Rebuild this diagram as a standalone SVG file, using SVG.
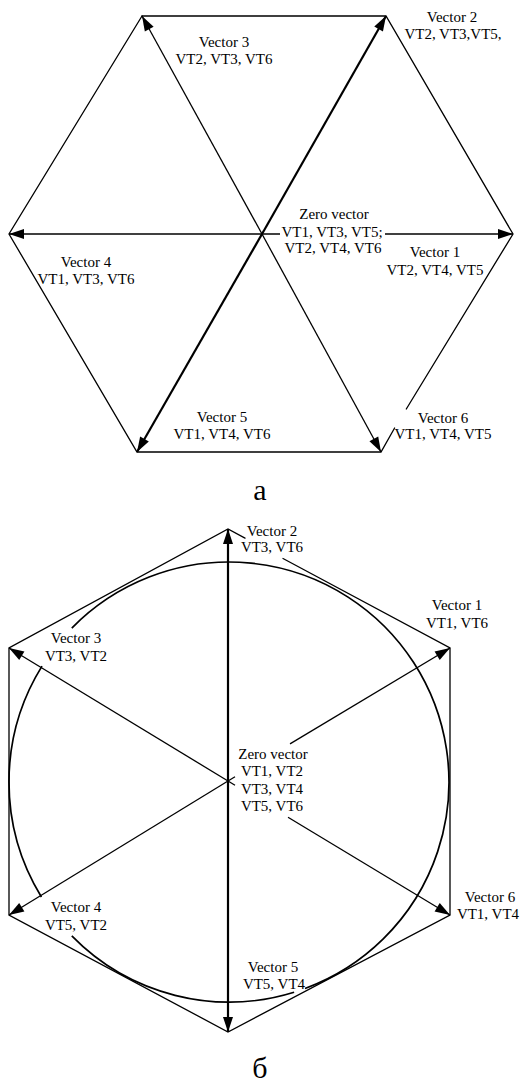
<svg xmlns="http://www.w3.org/2000/svg" width="524" height="1084" viewBox="0 0 524 1084">
<style>
.e{fill:none;stroke:#000;stroke-width:1.3;stroke-linecap:round;stroke-linejoin:miter}
.v{fill:none;stroke:#000;stroke-width:1.3;marker-end:url(#ah)}
.vt{fill:none;stroke:#000;stroke-width:2.2;marker-end:url(#ah)}
.s{fill:none;stroke:#000;stroke-width:1.3}
.c{fill:none;stroke:#000;stroke-width:1.7}
text{font-family:"Liberation Serif","Times New Roman",serif;font-size:15px;fill:#000;text-anchor:middle}
.big{font-size:30px}
</style>
<defs>
<marker id="ah" markerUnits="userSpaceOnUse" markerWidth="20" markerHeight="14" viewBox="-16 -7 18 14" refX="0" refY="0" orient="auto">
<path d="M0,0 L-15,-5 L-15,5 Z" fill="#000"/>
</marker>
</defs>

<!-- Diagram a -->
<g id="hex-a">
<path class="e" d="M142,16 L386,16 L513,234 L406.3,409"/>
<path class="e" d="M394.6,428 L381,452 L137,452 L9,234 L142,16"/>
</g>
<g id="connectors-a">
<line class="v" x1="262" y1="234" x2="142" y2="16"/>
<line class="v" x1="262" y1="234" x2="381" y2="452"/>
<line class="vt" x1="262" y1="234" x2="386" y2="16"/>
<line class="vt" x1="262" y1="234" x2="137" y2="452"/>
<line class="v" x1="280" y1="234" x2="9" y2="234"/>
<line class="v" x1="385" y1="234" x2="513" y2="234"/>
</g>
<g id="a-v3"><text x="224" y="47">Vector 3</text><text x="224" y="64">VT2, VT3, VT6</text></g>
<g id="a-v2"><text x="452" y="22">Vector 2</text><text x="453" y="39">VT2, VT3,VT5,</text></g>
<g id="a-zero"><text x="334" y="219">Zero vector</text><text x="332" y="237">VT1, VT3, VT5;</text><text x="333" y="253">VT2, VT4, VT6</text></g>
<g id="a-v4"><text x="86" y="267">Vector 4</text><text x="86" y="284">VT1, VT3, VT6</text></g>
<g id="a-v1"><text x="435" y="257">Vector 1</text><text x="435" y="275">VT2, VT4, VT5</text></g>
<g id="a-v5"><text x="222" y="422">Vector 5</text><text x="222" y="439">VT1, VT4, VT6</text></g>
<g id="a-v6"><text x="443" y="423">Vector 6</text><text x="443" y="439">VT1, VT4, VT5</text></g>
<g id="cap-a"><text class="big" x="260" y="500">а</text></g>

<!-- Diagram b -->
<g id="hex-b">
<path class="e" d="M245,538.1 L228,529 L9,648 L9,915 L228,1032 L450,915 L450,648 L283,558.5"/>
</g>
<g id="circle-b">
<path class="c" d="M71.8,628.1 A220,220 0 1 1 305,988.5"/>
<path class="c" d="M294.1,992.2 A220,220 0 0 1 71.8,935.9"/>
<path class="c" d="M41.4,897 A220,220 0 0 1 42,666.1"/>
</g>
<g id="connectors-b">
<line class="vt" x1="228" y1="781" x2="228" y2="529"/>
<line class="vt" x1="228" y1="781" x2="228" y2="1032"/>
<line class="v" x1="228" y1="781" x2="9" y2="648"/>
<line class="v" x1="228" y1="781" x2="9" y2="915"/>
<line class="s" x1="228" y1="781" x2="235" y2="776.8"/>
<line class="v" x1="290" y1="743.9" x2="450" y2="648"/>
<line class="s" x1="228" y1="781" x2="235" y2="785.2"/>
<line class="v" x1="288" y1="817.2" x2="450" y2="915"/>
</g>
<g id="b-v2"><text x="272" y="536">Vector 2</text><text x="272" y="552">VT3, VT6</text></g>
<g id="b-v1"><text x="457" y="610">Vector 1</text><text x="457" y="628">VT1, VT6</text></g>
<g id="b-v3"><text x="76" y="643">Vector 3</text><text x="76" y="661">VT3, VT2</text></g>
<g id="b-zero"><text x="273" y="759">Zero vector</text><text x="272" y="776">VT1, VT2</text><text x="272" y="794">VT3, VT4</text><text x="272" y="811">VT5, VT6</text></g>
<g id="b-v4"><text x="76" y="912">Vector 4</text><text x="76" y="930">VT5, VT2</text></g>
<g id="b-v6"><text x="490" y="902">Vector 6</text><text x="488" y="919">VT1, VT4</text></g>
<g id="b-v5"><text x="273" y="972">Vector 5</text><text x="274" y="989">VT5, VT4</text></g>
<g id="cap-b"><text class="big" x="260" y="1078">б</text></g>
</svg>
